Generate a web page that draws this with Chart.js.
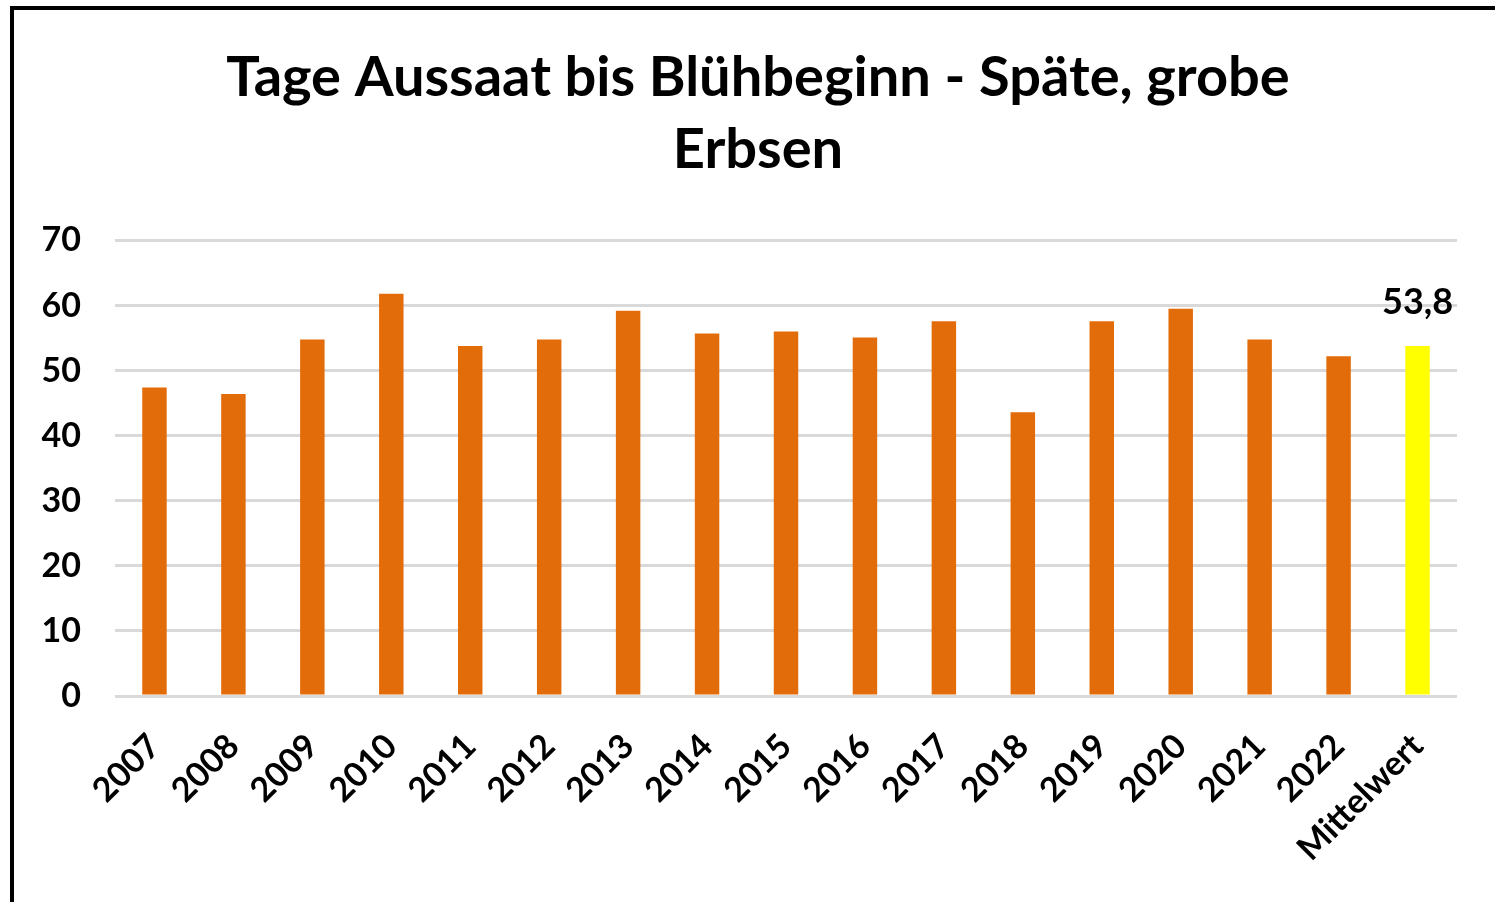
<!DOCTYPE html>
<html>
<head>
<meta charset="utf-8">
<script src="https://cdn.jsdelivr.net/npm/chart.js@4.4.0/dist/chart.umd.min.js"></script>
<style>
	html, body { margin: 0; padding: 0; background: #fff; }
	#wrap { position: relative; width: 1495px; height: 902px; overflow: hidden; }
	#frame { position: absolute; left: 10px; top: 6px; right: -10px; bottom: -10px; border-left: 4px solid #000; border-top: 4px solid #000; box-shadow: 0 1px 0 #999; pointer-events: none; }
	canvas { position: absolute; left: 0; top: 0; }
</style>
</head>
<body>
<div id="wrap">
	<canvas id="bluehbeginn-chart" width="1495" height="902"></canvas>
	<div id="frame"></div>
</div>
<script>
// Tage Aussaat bis Blühbeginn
const years = ['2007', '2008', '2009', '2010', '2011', '2012', '2013', '2014', '2015', '2016', '2017', '2018', '2019', '2020', '2021', '2022', 'Mittelwert'];
const days = [47.4, 46.4, 54.8, 61.8, 53.8, 54.8, 59.2, 55.7, 56.0, 55.1, 57.6, 43.6, 57.6, 59.5, 54.8, 52.2, 53.8];
const titleLines = ['Tage Aussaat bis Blühbeginn - Späte, grobe', 'Erbsen'];
const yTicks = [0, 10, 20, 30, 40, 50, 60, 70];

const barColors = years.map(y => y == 'Mittelwert' ? '#ffff00' : '#e36c0a');
const fontFamily = 'Lato, "Open Sans", sans-serif';

// value label only above the mean bar
const meanLabel = {
	id: 'meanLabel',
	afterDatasetsDraw (chart) {
		const ctx = chart.ctx;
		const meta = chart.getDatasetMeta(0);
		const i = years.indexOf('Mittelwert');
		const bar = meta.data[i];

		ctx.save();
		ctx.font = 'bold 36px ' + fontFamily;
		ctx.fillStyle = '#000';
		ctx.textAlign = 'center';
		ctx.textBaseline = 'alphabetic';
		ctx.fillText(days[i].toFixed(1).replace('.', ','), bar.x, bar.y - 32);
		ctx.restore();
	}
};

const chart = new Chart(document.getElementById('bluehbeginn-chart'), {
	type: 'bar',
	data: {
		labels: years,
		datasets: [{
			data: days,
			backgroundColor: barColors,
			barPercentage: 0.31,
			categoryPercentage: 1
		}]
	},
	options: {
		responsive: false,
		animation: false,
		devicePixelRatio: 1,
		layout: { padding: { left: 21, right: 0, top: 0, bottom: 0 } },
		plugins: {
			legend: { display: false },
			tooltip: { enabled: false },
			title: {
				display: true,
				text: titleLines,
				color: '#000',
				font: { family: fontFamily, size: 56, weight: 'bold', lineHeight: 1.29 },
				padding: { top: 42, bottom: 54 }
			}
		},
		scales: {
			x: {
				grid: { display: false },
				border: { display: false },
				ticks: {
					color: '#000',
					font: { family: fontFamily, size: 34, weight: 'bold' },
					minRotation: 45,
					maxRotation: 45,
					padding: 22
				},
				afterFit (scale) { scale.height = 206; }
			},
			y: {
				min: 0,
				max: 70,
				afterBuildTicks (scale) { scale.ticks = yTicks.map(v => ({ value: v })); },
				grid: { color: '#d9d9d9', lineWidth: 3, drawTicks: false },
				border: { display: false },
				ticks: {
					color: '#000',
					font: { family: fontFamily, size: 34, weight: 'bold' },
					padding: 34
				},
				afterFit (scale) { scale.width = 94; }
			},
			// empty right-hand margin
			yRight: {
				position: 'right',
				min: 0,
				max: 70,
				grid: { display: false },
				border: { display: false },
				ticks: { display: false },
				afterFit (scale) { scale.width = 38; }
			}
		}
	},
	plugins: [meanLabel]
});
</script>
</body>
</html>
